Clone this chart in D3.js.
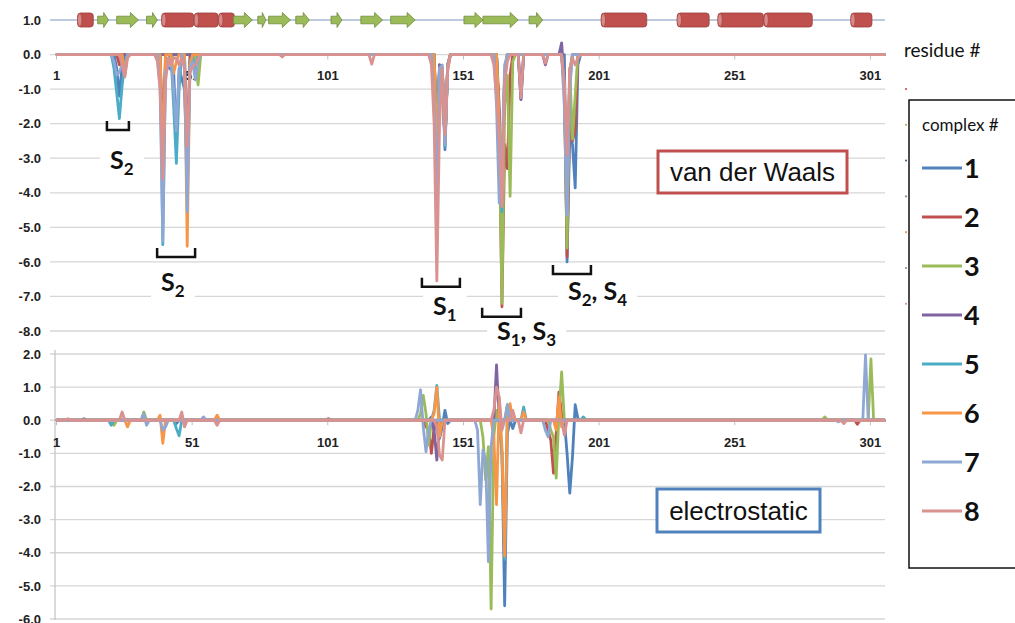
<!DOCTYPE html>
<html><head><meta charset="utf-8">
<script src="https://cdn.jsdelivr.net/npm/d3@7"></script>
<style>body{margin:0;background:#fff}svg{display:block}</style>
</head><body><svg id="c" width="1015" height="623"></svg>
<script>
// ---------- data ----------
const residueTicks = [1, 51, 101, 151, 201, 251, 301];
const vdwTicks = [1, 0, -1, -2, -3, -4, -5, -6, -7, -8];
const esTicks = [2, 1, 0, -1, -2, -3, -4, -5, -6];
const complexNames = ["1", "2", "3", "4", "5", "6", "7", "8"];
const complexColors = ["#4F81BD", "#C0504D", "#9BBB59", "#8064A2", "#4BACC6", "#F79646", "#8EA7D4", "#DA9290"];
const helixRanges = [[9,14],[40,51],[52,60],[61,66],[202,218],[230,241],[245,261],[262,279],[294,301]];
const strandRanges = [[16,20],[23,31],[34,38],[66,73],[75,78],[79,87],[89,94],[102,106],[113,121],[124,133],[151,158],[158,171],[175,180]];

// van der Waals energy per residue, [residue, value]
const vdw1 = [[1,0],[22,0],[23,-0.4],[24,-1.2],[25,-0.3],[26,0],[39,0],[40,-3.0],[41,-0.3],[44,-0.5],[45,-2.5],[46,-0.4],[48,-1.0],[49,-3.6],[50,-0.2],[51,0],
  [140,0],[141,-3.0],[142,-0.6],[143,-0.5],[144,-2.75],[145,-0.4],[146,0],[163,0],[164,-2.0],[165,-4.5],[166,-0.6],[167,0],
  [171,0],[172,-1.3],[173,0],[188,0],[189,-6.0],[190,-2.2],[191,-2.6],[192,-3.86],[193,-0.3],[194,0],[306,0]];
const vdw2 = [[1,0],[23,0],[24,-0.3],[25,0],[39,0],[40,-2.5],[41,0],[48,0],[49,-3.0],[50,0],
  [140,0],[141,-2.5],[142,-0.3],[143,-0.4],[144,-2.5],[145,-0.3],[146,0],[163,0],[164,-2.0],[165,-7.3],[166,-2.6],[167,-3.3],[168,-0.6],[169,0],
  [187,0],[188,-1.0],[189,-5.85],[190,-1.5],[191,-2.5],[192,-2.2],[193,0],[306,0]];
const vdw3 = [[1,0],[42,0],[43,-0.1],[44,0],[52,0],[53,-0.88],[54,0],
  [140,0],[141,-2.8],[142,-0.3],[143,-0.4],[144,-2.5],[145,-0.3],[146,0],[163,0],[164,-2.0],[165,-7.2],[166,-1.5],[167,-0.6],[168,-4.1],[169,-0.2],[170,0],
  [187,0],[188,-1.0],[189,-5.6],[190,-0.4],[191,-2.45],[192,-1.2],[193,0],[306,0]];
const vdw4 = [[1,0],[140,0],[141,-2.5],[142,-0.3],[143,-0.4],[144,-2.6],[145,-0.3],[146,0],[163,0],[164,-1.5],[165,-4.2],[166,-0.5],[167,0],
  [171,0],[172,-1.3],[173,0],[180,0],[181,-0.3],[182,0],[186,0],[187,0.34],[188,-0.8],[189,-4.5],[190,-0.5],[191,0],[306,0]];
const vdw5 = [[1,0],[21,0],[22,-0.4],[23,-1.1],[24,-1.85],[25,-0.9],[26,-0.3],[27,0],[39,0],[40,-5.5],[41,-0.3],[43,0],[44,-1.5],[45,-3.15],[46,-1.0],[47,0],[48,0],[49,-4.0],[50,-0.2],[51,0],[52,-0.6],[53,0],
  [140,0],[141,-2.8],[142,-0.4],[143,-0.4],[144,-2.65],[145,-0.3],[146,0],[163,0],[164,-2.2],[165,-4.55],[166,-0.5],[167,0],
  [187,0],[188,-1.0],[189,-4.5],[190,-0.8],[191,0],[306,0]];
const vdw6 = [[1,0],[25,0],[26,-0.55],[27,0],[39,0],[40,-3.0],[41,0],[43,0],[44,-0.55],[45,-0.2],[46,0],[48,0],[49,-5.55],[50,-0.3],[51,0],
  [140,0],[141,-2.8],[142,-0.4],[143,-0.4],[144,-2.55],[145,-0.3],[146,0],[163,0],[164,-2.0],[165,-4.3],[166,-0.5],[167,0],
  [187,0],[188,-1.0],[189,-4.5],[190,-0.5],[191,0],[306,0]];
const vdw7 = [[1,0],[21,0],[22,-0.2],[23,-0.6],[24,-0.5],[25,-0.3],[26,-0.6],[27,0],[38,0],[39,-1.0],[40,-5.4],[41,-0.5],[42,-0.3],[43,-0.2],[44,-1.0],[45,-2.2],[46,-0.5],[47,0],[48,-0.3],[49,-4.55],[50,-0.4],[51,-0.2],[52,-0.74],[53,-0.2],[54,0],
  [139,0],[140,-1.5],[141,-4.5],[142,-0.4],[143,-0.3],[144,-2.6],[145,-0.4],[146,0],[162,0],[163,-1.5],[164,-4.3],[165,-3.0],[166,-0.3],[167,0],
  [187,0],[188,-1.5],[189,-4.65],[190,-1.0],[191,0],[306,0]];
const vdw8 = [[1,0],[24,0],[25,-0.3],[26,-0.65],[27,-0.1],[28,0],[37,0],[38,-0.2],[39,-1.0],[40,-3.6],[41,-0.8],[42,-0.1],[43,-0.3],[44,-0.1],[45,-0.1],[46,-0.3],[47,-0.1],[48,-0.4],[49,-2.65],[50,-0.5],[51,-0.35],[52,-0.3],[53,-0.1],[54,0],
  [83,0],[84,-0.07],[85,0],[116,0],[117,-0.28],[118,0],
  [138,0],[139,-0.3],[140,-2.0],[141,-6.55],[142,-2.0],[143,-0.4],[144,-2.3],[145,-0.5],[146,0],
  [161,0],[162,-0.3],[163,-1.2],[164,-2.5],[165,-4.4],[166,-0.8],[167,-0.2],[168,0],[171,0],[172,-1.25],[173,0],[180,0],[181,-0.25],[182,0],
  [187,0],[188,-0.8],[189,-2.9],[190,-0.4],[191,-0.1],[192,-0.3],[193,-0.1],[194,0],[306,0]];

// electrostatic energy per residue, [residue, value]
const es1 = [[1,0],[10,0],[11,0.05],[12,0],[44,0],[45,-0.1],[46,0],
  [138,0],[139,0.1],[140,-0.3],[141,0],[142,-0.55],[143,-0.2],[144,0.3],[145,-0.1],[146,0],
  [164,0],[165,-1.0],[166,-5.6],[167,-0.4],[168,0],[169,-0.25],[170,0],[188,0],[189,-1.0],[190,-2.2],[191,-1.1],[192,0.47],[193,0.05],[194,0],[306,0]];
const es2 = [[1,0],[100,0],[101,0.05],[102,0],[136,0],[137,-0.2],[138,-0.3],[139,-1.0],[140,-0.2],[141,0],
  [181,0],[182,-0.3],[183,-0.6],[184,-1.6],[185,-0.4],[186,0.85],[187,0.2],[188,0],[295,0],[296,-0.12],[297,0],[306,0]];
const es3 = [[1,0],[21,0],[22,-0.15],[23,0],[32,0],[33,0.25],[34,0],[134,0],[135,0.2],[136,0.75],[137,0.2],[138,-0.75],[139,0],
  [157,0],[158,-0.5],[159,-1.8],[160,-0.8],[161,-5.7],[162,-0.5],[163,0.3],[164,0],[166,0],[167,0.45],[168,0],
  [182,0],[183,-0.3],[184,-0.5],[185,-1.75],[186,0.2],[187,1.46],[188,0],[283,0],[284,0.1],[285,0],[300,0],[301,1.85],[302,0],[306,0]];
const es4 = [[1,0],[139,0],[140,-0.3],[141,-1.2],[142,-0.2],[143,0],[162,0],[163,1.67],[164,0],[306,0]];
const es5 = [[1,0],[20,0],[21,-0.15],[22,0],[44,0],[45,-0.25],[46,-0.47],[47,0],[139,0],[140,0.3],[141,1.05],[142,0],
  [164,0],[165,-1.0],[166,-4.2],[167,0.47],[168,0],[172,0],[173,0.4],[174,0],[194,0],[195,0.1],[196,0],[306,0]];
const es6 = [[1,0],[26,0],[27,-0.2],[28,0],[38,0],[39,0.15],[40,-0.7],[41,0],[59,0],[60,0.15],[61,0],
  [139,0],[140,0.2],[141,1.0],[142,-0.5],[143,0],[161,0],[162,-0.5],[163,-2.55],[164,0.68],[165,-0.8],[166,-4.1],[167,0],[168,0.5],[169,0],
  [172,0],[173,0.25],[174,0],[184,0],[185,-0.3],[186,0.7],[187,-0.2],[188,0],[306,0]];
const es7 = [[1,0],[32,0],[33,0.2],[34,-0.15],[35,0],[39,0],[40,-0.3],[41,-0.2],[42,0],[54,0],[55,0.1],[56,0],
  [133,0],[134,0.3],[135,0.92],[136,-0.2],[137,-0.95],[138,-0.3],[139,0],
  [155,0],[156,-0.3],[157,-2.55],[158,-0.9],[159,-1.2],[160,-4.27],[161,-0.8],[162,0],[166,0],[167,0.47],[168,0],
  [180,0],[181,-0.3],[182,-0.5],[183,0],[288,0],[289,-0.05],[290,0],[298,0],[299,1.97],[300,0],[306,0]];
const es8 = [[1,0],[4,0],[5,0.05],[6,0],[24,0],[25,0.25],[26,0],[46,0],[47,0.25],[48,-0.2],[49,0],[59,0],[60,-0.15],[61,0],
  [140,0],[141,-0.2],[142,-1.05],[143,-1.2],[144,0],[161,0],[162,0.3],[163,1.0],[164,0.7],[165,-0.3],[166,0],
  [168,0],[169,0.3],[170,0],[171,0],[172,-0.38],[173,0],[187,0],[188,-0.45],[189,0],[290,0],[291,-0.1],[292,0],[306,0]];

const vdwSeries = [vdw1, vdw2, vdw3, vdw4, vdw5, vdw6, vdw7, vdw8];
const esSeries = [es1, es2, es3, es4, es5, es6, es7, es8];

// ---------- drawing ----------
const svg = d3.select("#c");
const x = d3.scaleLinear().domain([1, 306]).range([57, 884.5]);
const yV = d3.scaleLinear().domain([-8, 1]).range([331, 20]);
const yE = d3.scaleLinear().domain([-6, 2]).range([619, 354]);
const fmt = d => d.toFixed(1);
const gridCol = "#d6d6d6";

// gridlines
svg.append("g").selectAll("line").data(vdwTicks.filter(t => t !== 1)).join("line")
  .attr("x1", 50).attr("x2", 885).attr("y1", d => yV(d)).attr("y2", d => yV(d))
  .attr("stroke", gridCol).attr("stroke-width", 1.3);
svg.append("line").attr("x1", 50).attr("x2", 885).attr("y1", yV(1)).attr("y2", yV(1))
  .attr("stroke", "#a9b8d4").attr("stroke-width", 1.3);
svg.append("g").selectAll("line").data(esTicks).join("line")
  .attr("x1", 50).attr("x2", 885).attr("y1", d => yE(d)).attr("y2", d => yE(d))
  .attr("stroke", gridCol).attr("stroke-width", 1.3);
svg.append("line").attr("x1", 55).attr("x2", 55).attr("y1", 350).attr("y2", 620)
  .attr("stroke", "#c6c6c6").attr("stroke-width", 1.3);

// y axes
function styleAxis(g) {
  g.select(".domain").remove();
  g.selectAll(".tick line").attr("stroke", "#bfbfbf");
  g.selectAll("text").attr("font-family", "Liberation Sans, Arial, sans-serif")
    .attr("font-weight", "bold").attr("font-size", 13).attr("fill", "#222");
}
svg.append("g").attr("transform", "translate(41,0)")
  .call(d3.axisLeft(yV).tickValues(vdwTicks).tickFormat(fmt).tickSize(0).tickPadding(0)).call(styleAxis);
svg.append("g").attr("transform", "translate(41,0)")
  .call(d3.axisLeft(yE).tickValues(esTicks).tickFormat(fmt).tickSize(0).tickPadding(0)).call(styleAxis);

// x axes
svg.append("g").attr("transform", `translate(-1,${yV(0)})`)
  .call(d3.axisBottom(x).tickValues(residueTicks).tickFormat(d3.format("d")).tickSize(5).tickPadding(11)).call(styleAxis);
svg.append("g").attr("transform", `translate(-1,${yE(0)})`)
  .call(d3.axisBottom(x).tickValues(residueTicks).tickFormat(d3.format("d")).tickSize(5).tickPadding(13)).call(styleAxis);

// series lines
const lineV = d3.line().x(d => x(d[0])).y(d => yV(d[1]));
const lineE = d3.line().x(d => x(d[0])).y(d => yE(d[1]));
svg.append("g").selectAll("path").data(vdwSeries).join("path")
  .attr("d", lineV).attr("fill", "none").attr("stroke", (d, i) => complexColors[i])
  .attr("stroke-width", 2.8).attr("stroke-linejoin", "round").attr("stroke-linecap", "round");
svg.append("g").selectAll("path").data(esSeries).join("path")
  .attr("d", lineE).attr("fill", "none").attr("stroke", (d, i) => complexColors[i])
  .attr("stroke-width", 2.8).attr("stroke-linejoin", "round").attr("stroke-linecap", "round");

// secondary structure
const ssY = yV(1);
const ssG = svg.append("g");
ssG.selectAll("rect").data(helixRanges).join("rect")
  .attr("x", d => x(d[0]) - 1).attr("width", d => x(d[1]) - x(d[0]) + 2)
  .attr("y", ssY - 7).attr("height", 14).attr("rx", 3)
  .attr("fill", "#C0504D").attr("stroke", "#9a3e3b").attr("stroke-width", 0.8);
ssG.selectAll("ellipse").data(helixRanges).join("ellipse")
  .attr("cx", d => x(d[0]) + 1).attr("cy", ssY).attr("rx", 2.2).attr("ry", 6.5)
  .attr("fill", "#d98a88").attr("stroke", "#9a3e3b").attr("stroke-width", 0.6);
ssG.selectAll("path").data(strandRanges).join("path")
  .attr("d", d => {
    const a = x(d[0]), b = x(d[1]), h = Math.min(8, (b - a) * 0.45);
    return `M${a},${ssY - 3.8}L${b - h},${ssY - 3.8}L${b - h},${ssY - 7.5}L${b},${ssY}L${b - h},${ssY + 7.5}L${b - h},${ssY + 3.8}L${a},${ssY + 3.8}Z`;
  })
  .attr("fill", "#9BBB59").attr("stroke", "#6f8a3c").attr("stroke-width", 0.8);

// brackets and site labels
const brackets = [
  {r0: 19.4, r1: 27.5, v: -2.18, label: [["S",0],["2",1]], lx: 110, ly: 169},
  {r0: 37.9, r1: 51.9, v: -5.86, label: [["S",0],["2",1]], lx: 161, ly: 291},
  {r0: 135.5, r1: 149.5, v: -6.72, label: [["S",0],["1",1]], lx: 433, ly: 315},
  {r0: 157.7, r1: 172, v: -7.59, label: [["S",0],["1",1],[", S",0],["3",1]], lx: 497, ly: 340},
  {r0: 183.8, r1: 197.8, v: -6.35, label: [["S",0],["2",1],[", S",0],["4",1]], lx: 568, ly: 300}
];
const bg = svg.append("g");
brackets.forEach(b => {
  const y0 = yV(b.v);
  bg.append("path").attr("d", `M${x(b.r0)},${y0 - 9}V${y0}H${x(b.r1)}V${y0 - 9}`)
    .attr("fill", "none").attr("stroke", "#111").attr("stroke-width", 2.5);
  const t = bg.append("text").attr("x", b.lx).attr("y", b.ly)
    .attr("font-family", "Lato, Carlito, sans-serif").attr("font-weight", "bold").attr("font-size", 25).attr("fill", "#111");
  let sub = false;
  b.label.forEach(([s, isSub]) => {
    const ts = t.append("tspan").text(s);
    if (isSub && !sub) { ts.attr("dy", 6).attr("font-size", 17); sub = true; }
    else if (isSub) { ts.attr("font-size", 17); }
    else if (sub) { ts.attr("dy", -6); sub = false; }
  });
  const bb = t.node().getBBox();
  bg.insert("rect", "text").attr("x", bb.x - 10).attr("y", bb.y + 2).attr("width", bb.width + 20).attr("height", bb.height - 2).attr("fill", "#fff");
});

// panel title boxes
function titleBox(x0, y0, w, h, col, txt) {
  svg.append("rect").attr("x", x0).attr("y", y0).attr("width", w).attr("height", h)
    .attr("fill", "#fff").attr("stroke", col).attr("stroke-width", 3);
  svg.append("text").attr("x", x0 + w / 2).attr("y", y0 + h / 2 + 9).attr("text-anchor", "middle")
    .attr("font-family", "Liberation Sans, Arial, sans-serif").attr("font-size", 26).attr("fill", "#111").text(txt);
}
titleBox(658, 151, 189, 42, "#C0504D", "van der Waals");
titleBox(657, 489, 163, 43, "#4F81BD", "electrostatic");

// axis title
svg.append("text").attr("x", 904).attr("y", 57).attr("font-family", "Lato, Carlito, sans-serif")
  .attr("font-size", 19).attr("fill", "#111").text("residue #");

// stray legend marks
const dotCols = ["#C0504D", "#9BBB59", "#4F6A8F", "#8c8c8c", "#F79646", "#8c8c8c", "#DA9290"];
svg.append("g").selectAll("circle").data(dotCols).join("circle")
  .attr("cx", 906).attr("cy", (d, i) => 89 + i * 35.8).attr("r", 1.1).attr("fill", d => d);

// legend
const lg = svg.append("g");
lg.append("rect").attr("x", 909).attr("y", 100).attr("width", 140).attr("height", 468)
  .attr("fill", "#fff").attr("stroke", "#111").attr("stroke-width", 1.5);
lg.append("text").attr("x", 922).attr("y", 131).attr("font-family", "Lato, Carlito, sans-serif")
  .attr("font-size", 17).attr("fill", "#111").text("complex #");
const le = lg.selectAll("g.e").data(complexNames).join("g").attr("class", "e")
  .attr("transform", (d, i) => `translate(0,${168 + i * 49})`);
le.append("line").attr("x1", 922).attr("x2", 962).attr("stroke", (d, i) => complexColors[i]).attr("stroke-width", 3);
le.append("text").attr("x", 964).attr("y", 10).attr("font-family", "Lato, Carlito, sans-serif")
  .attr("font-weight", "bold").attr("font-size", 27).attr("fill", "#111").text(d => d);
</script></body></html>
